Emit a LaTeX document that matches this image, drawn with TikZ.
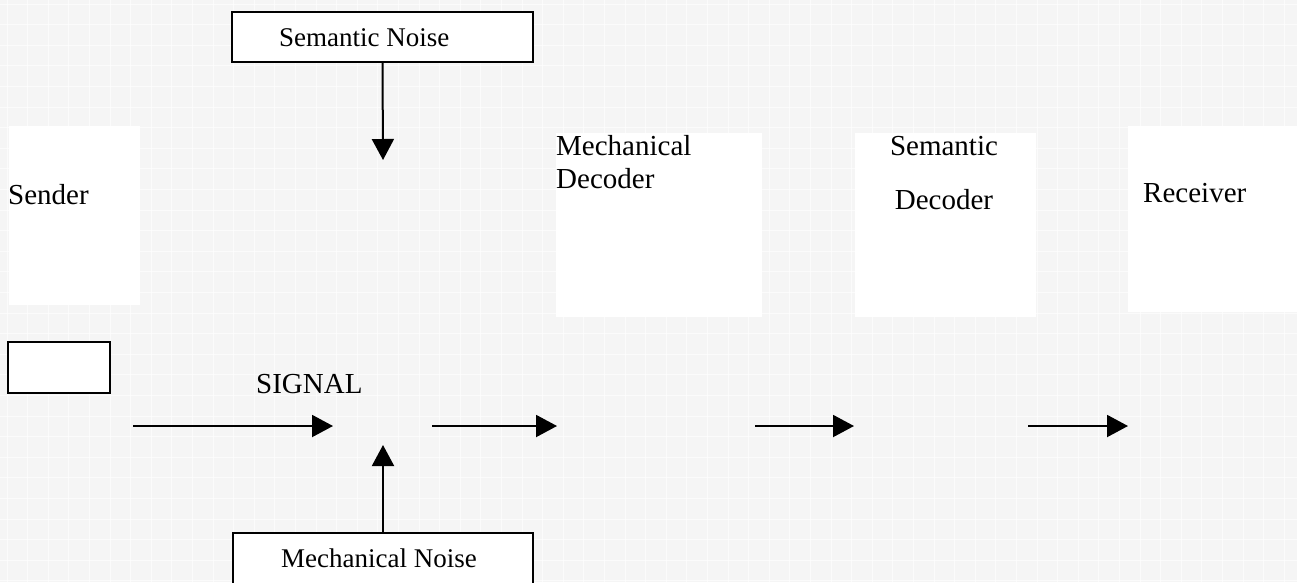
\documentclass[tikz,border=0pt]{standalone}
\usepackage{fontspec}
\setmainfont{Liberation Serif}
\usetikzlibrary{arrows.meta}
\definecolor{paper}{HTML}{F5F5F5}
\tikzset{
  panel/.style={fill=white, draw=none, inner sep=0pt, outer sep=0pt, anchor=north west},
  framed/.style={fill=white, draw=black, line width=1.6pt, inner sep=0pt, outer sep=0pt, anchor=north west},
  lbl/.style={font=\fontsize{29}{34}\selectfont, inner sep=0pt, anchor=base west},
  noiselbl/.style={font=\fontsize{27}{31}\selectfont, inner sep=0pt, anchor=base west},
  flow/.style={line width=2pt, -{Triangle[length=21pt,width=22pt]}},
  tile/.style={white, line width=1pt, opacity=0.6},
}
\begin{document}
\begin{tikzpicture}[x=1pt,y=-1pt]
  \useasboundingbox (0,0) rectangle (1297,582);
  \clip (0,0) rectangle (1297,582);
  % paper background with faint tiling
  \fill[paper] (0,0) rectangle (1297,582);
  \foreach \i in {0,...,63} {
    \draw[tile] ({7+20.6*\i},0) -- ({7+20.6*\i},582);
  }
  \foreach \j in {0,...,28} {
    \draw[tile] (0,{4+20.6*\j}) -- (1297,{4+20.6*\j});
  }

  % blocks
  \node[panel, minimum width=131pt, minimum height=179pt] (sender) at (9,126) {};
  \node[panel, minimum width=206pt, minimum height=184pt] (mdec) at (556,133) {};
  \node[panel, minimum width=181pt, minimum height=184pt] (sdec) at (855,133) {};
  \node[panel, minimum width=175pt, minimum height=186pt] (recv) at (1128,126) {};
  \node[framed, minimum width=102pt, minimum height=51pt] (src) at (8,342) {};
  \node[framed, minimum width=301pt, minimum height=50pt] (snoise) at (232,12) {};
  \node[framed, minimum width=300pt, minimum height=70pt] (mnoise) at (233,533) {};

  % labels
  \node[lbl] (tsender) at (8,204) {Sender};
  \node[lbl] (tmdec1) at (556,155) {Mechanical};
  \node[lbl] (tmdec2) at (556,188) {Decoder};
  \node[lbl, anchor=base] (tsdec1) at (944,155) {Semantic};
  \node[lbl, anchor=base] (tsdec2) at (944,209) {Decoder};
  \node[lbl] (trecv) at (1143,202) {Receiver};
  \node[lbl] (tsignal) at (256,393) {SIGNAL};
  \node[noiselbl] (tsn) at (279,46) {Semantic Noise};
  \node[noiselbl] (tmn) at (281,567) {Mechanical Noise};

  % signal path
  \coordinate (a1s) at (133,426); \coordinate (a1e) at (333,426);
  \coordinate (a2s) at (432,426); \coordinate (a2e) at (557,426);
  \coordinate (a3s) at (755,426); \coordinate (a3e) at (854,426);
  \coordinate (a4s) at (1028,426); \coordinate (a4e) at (1128,426);
  \draw[flow] (a1s) -- (a1e);
  \draw[flow] (a2s) -- (a2e);
  \draw[flow] (a3s) -- (a3e);
  \draw[flow] (a4s) -- (a4e);

  % noise inputs
  \coordinate (snin) at (383,160);
  \coordinate (mnin) at (383,445);
  \draw[flow] (snoise.south) -- (snin);
  \draw[flow] (mnoise.north) -- (mnin);
\end{tikzpicture}
\end{document}
